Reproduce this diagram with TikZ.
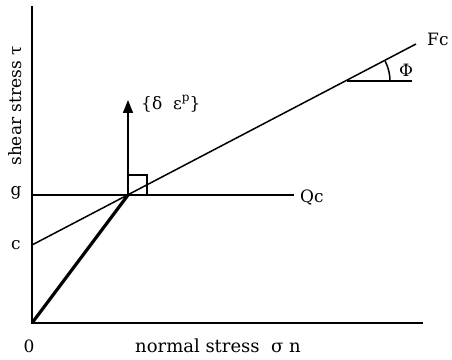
\documentclass[tikz,border=0pt]{standalone}
\usepackage{fontspec}
\setmainfont{DejaVu Serif}
\usetikzlibrary{arrows.meta}
\begin{document}
\begin{tikzpicture}[x=1pt,y=1pt,
  lbl/.style={inner sep=0pt,font=\fontsize{17}{20}\selectfont},
  ln/.style={line width=1.5pt},
  thk/.style={line width=3.2pt}]
\useasboundingbox (0,0) rectangle (452,359);
\coordinate (O) at (32,36);
\coordinate (ytop) at (32,353);
\coordinate (xend) at (423,36);
\coordinate (P) at (128,164);
\coordinate (gend) at (294,164);
\coordinate (gst) at (32,164);
\coordinate (cst) at (32,114);
\coordinate (fend) at (416,315);
\coordinate (phiA) at (347,278);
\coordinate (phiB) at (412,278);
\coordinate (tip) at (128,259);
\draw[ln] (ytop) -- (O) -- (xend);
\draw[ln] (gst) -- (gend);
\draw[ln] (cst) -- (fend);
\draw[thk] (O) -- (P);
\draw[ln] (phiA) -- (phiB);
\draw[ln] ([shift={(43,0)}]phiA) arc[start angle=0,end angle=27.5,radius=43];
\draw[line width=1.5pt,-{Triangle[length=13pt,width=10pt]}] (P) -- (tip);
\draw[line width=1.1pt] (P) -- ++(0,20) -- ++(19,0) -- ++(0,-20);
\node[lbl] (g) at (16,166) {g};
\node[lbl] (c) at (16,114) {c};
\node[lbl] (zero) at (29,13) {0};
\node[lbl,anchor=west] (qc) at (300,161) {Qc};
\node[lbl,anchor=west] (fc) at (427,320) {Fc};
\node[lbl] (phi) at (406,289) {Φ};
\node[lbl,anchor=west] (de) at (141,255) {\{δ\ \ ε\raisebox{0.45em}{\fontsize{12}{14}\selectfont p}\}};
\node[lbl,font=\fontsize{18}{20}\selectfont] (xl) at (218,13) {normal stress\ \ σ n};
\node[lbl,rotate=90] (yl) at (15,253) {shear stress τ};
\end{tikzpicture}
\end{document}
